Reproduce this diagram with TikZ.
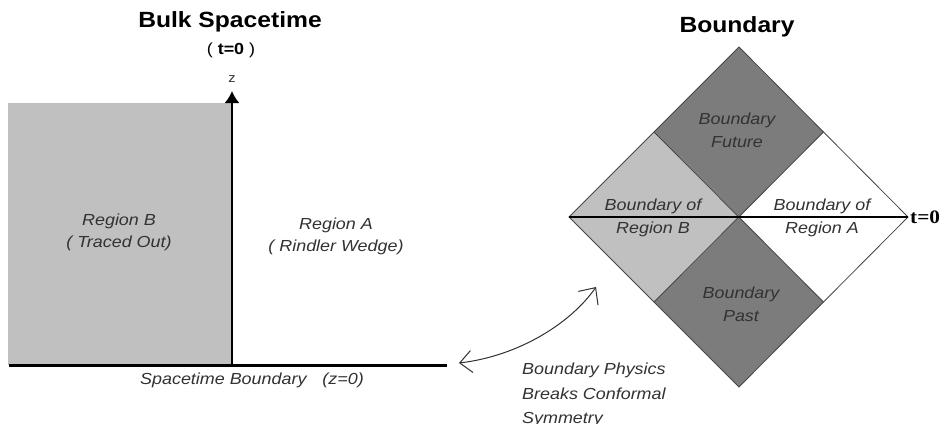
\documentclass[tikz,border=0pt]{standalone}
\usepackage{fontspec}
\setmainfont[FakeStretch=1.12]{Liberation Sans}
\newfontfamily\serifb[FakeStretch=1.12]{Liberation Serif}
\usetikzlibrary{arrows.meta}
\definecolor{lgray}{RGB}{192,192,192}
\definecolor{dgray}{RGB}{124,124,124}
\definecolor{tgray}{RGB}{50,50,50}
\definecolor{egray}{RGB}{70,70,70}
\tikzset{
  lbl/.style={font=\fontsize{16}{22}\selectfont\itshape, text=tgray, align=center, inner sep=0pt},
  dlbl/.style={lbl, font=\fontsize{16}{23}\selectfont\itshape},
  ttl/.style={font=\fontsize{22}{26}\selectfont\bfseries, inner sep=0pt},
  edge/.style={draw=egray, line width=0.8pt},
}
\begin{document}
\begin{tikzpicture}[x=1pt,y=-1pt]
\useasboundingbox (0,0) rectangle (944,423);
\fill[white] (0,0) rectangle (944,423);

% ---------- bulk spacetime ----------
\fill[lgray] (8,103) rectangle (232,365);
\coordinate (origin) at (232,365);
\coordinate (ztip) at (232,91);
\coordinate (bl) at (9,365);
\coordinate (br) at (447,365);
\draw[line width=3pt] (bl) -- (br);
\draw[line width=2pt, -{Latex[length=12pt,width=15pt]}] (origin) -- (ztip);
\node[font=\fontsize{13}{14}\selectfont, text=tgray] (z) at (232,79) {z};
\node[ttl] (bulk) at (230,22) {Bulk Spacetime};
\node[font=\fontsize{16}{18}\selectfont, inner sep=0pt] (t0a) at (231,50) {(\ \textbf{t=0}\ )};
\node[lbl] (rb) at (119,232) {Region B\\(\ Traced Out)};
\node[lbl] (ra) at (336,236) {Region A\\(\ Rindler Wedge)};
\node[lbl] (sb) at (252,380) {Spacetime Boundary\quad(z=0)};

% ---------- boundary diamond ----------
\node[ttl] (bdy) at (737,27) {Boundary};
\coordinate (T) at (739,47);
\coordinate (B) at (739,387);
\coordinate (L) at (569,217);
\coordinate (R) at (908,217);
\coordinate (C) at (739,217);
\coordinate (UL) at (654,132);
\coordinate (UR) at (823.5,132);
\coordinate (LL) at (654,302);
\coordinate (LR) at (823.5,302);
\fill[dgray] (T) -- (UR) -- (C) -- (UL) -- cycle;
\fill[dgray] (C) -- (LR) -- (B) -- (LL) -- cycle;
\fill[lgray] (UL) -- (C) -- (LL) -- (L) -- cycle;
\draw[edge] (T) -- (R) -- (B) -- (L) -- cycle;
\draw[edge] (UL) -- (LR);
\draw[edge] (UR) -- (LL);
\draw[line width=1.3pt] (L) -- (R);
\node[font=\fontsize{19}{22}\serifb\bfseries, anchor=west, inner sep=2pt] (t0b) at (R) {t=0};

\node[dlbl] (fut) at (737,130) {Boundary\\Future};
\node[dlbl] (bofb) at (653,218) {Boundary of\\Region B};
\node[dlbl] (bofa) at (822,218) {Boundary of\\Region A};
\node[dlbl] (past) at (741,304) {Boundary\\Past};

% ---------- curved arrow and note ----------
\coordinate (ca) at (459,363);
\coordinate (cb) at (596,287);
\draw[tgray, line width=1pt, {Straight Barb[length=12pt,width=22pt]}-{Straight Barb[length=13pt,width=24pt]}]
  (ca) .. controls (519,356) and (571,323) .. (cb);
\node[lbl, font=\fontsize{16}{24.5}\selectfont\itshape, align=left, anchor=north west] (note) at (522,363)
  {Boundary Physics\\Breaks Conformal\\Symmetry};
\end{tikzpicture}
\end{document}
